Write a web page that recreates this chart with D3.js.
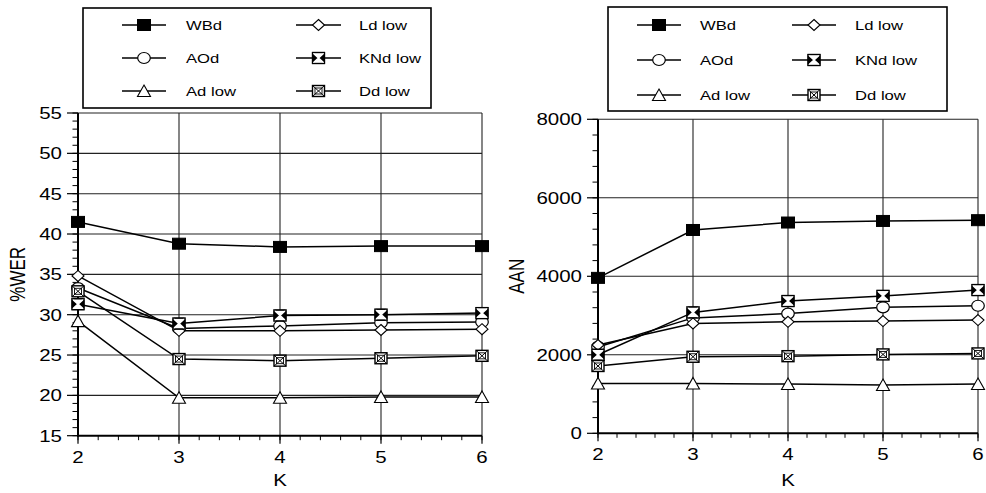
<!DOCTYPE html>
<html>
<head>
<meta charset="utf-8">
<script src="https://cdn.jsdelivr.net/npm/d3@7"></script>
<style>
  html, body { margin: 0; padding: 0; background: #fff; }
  svg text { font-family: "Liberation Sans", Arial, Helvetica, sans-serif; fill: #000; }
</style>
</head>
<body>
<svg id="chart" width="986" height="493"></svg>
<script>
// ---------------- data ----------------
const kValues = [2, 3, 4, 5, 6];
const seriesNames = ["WBd", "AOd", "Ad low", "Ld low", "KNd low", "Dd low"];
const seriesMarkers = ["fsquare", "circle", "triangle", "diamond", "knbox", "ddbox"];

const werWBd = [41.5, 38.8, 38.4, 38.5, 38.5];
const werAOd = [33.3, 28.3, 28.6, 29.0, 29.1];
const werAd  = [29.2, 19.7, 19.7, 19.8, 19.8];
const werLd  = [34.8, 28.0, 28.0, 28.1, 28.2];
const werKNd = [31.3, 28.9, 29.9, 30.0, 30.2];
const werDd  = [32.9, 24.5, 24.3, 24.6, 24.9];

const aanWBd = [3960, 5180, 5370, 5410, 5430];
const aanAOd = [2200, 2940, 3050, 3210, 3250];
const aanAd  = [1270, 1270, 1255, 1230, 1255];
const aanLd  = [2250, 2800, 2840, 2860, 2885];
const aanKNd = [2000, 3080, 3370, 3500, 3650];
const aanDd  = [1715, 1950, 1965, 2010, 2035];

const werTicks = [15, 20, 25, 30, 35, 40, 45, 50, 55];
const aanTicks = [0, 2000, 4000, 6000, 8000];
const kTicks = [2, 3, 4, 5, 6];

// ---------------- layout ----------------
const svg = d3.select("#chart");
const SX = 1.28; // horizontal stretch of the original figure's text

function txt(g, x, y, s, size, anchor, rot) {
  return g.append("text")
    .attr("transform", `translate(${x},${y}) scale(${SX},1)` + (rot ? ` rotate(${rot})` : ""))
    .attr("font-size", size)
    .attr("text-anchor", anchor || "start")
    .text(s);
}

function marker(g, type, cx, cy) {
  const w = 13, h = 11;
  const m = g.append("g").attr("transform", `translate(${cx},${cy})`);
  if (type === "fsquare") {
    m.append("rect").attr("x", -w/2).attr("y", -h/2).attr("width", w).attr("height", h)
      .attr("fill", "#000").attr("stroke", "#000").attr("stroke-width", 1);
  } else if (type === "circle") {
    m.append("ellipse").attr("rx", 6.3).attr("ry", 5.5)
      .attr("fill", "#fff").attr("stroke", "#000").attr("stroke-width", 1.2);
  } else if (type === "triangle") {
    m.append("path").attr("d", `M0,${-6} L${6.5},${5.5} L${-6.5},${5.5} Z`)
      .attr("fill", "#fff").attr("stroke", "#000").attr("stroke-width", 1.1);
  } else if (type === "diamond") {
    m.append("path").attr("d", `M0,-5.5 L6,0 L0,5.5 L-6,0 Z`)
      .attr("fill", "#fff").attr("stroke", "#000").attr("stroke-width", 1.1);
  } else if (type === "knbox") {
    const a = 6, b = 5.5;
    m.append("rect").attr("x", -a).attr("y", -b).attr("width", 2*a).attr("height", 2*b)
      .attr("fill", "#fff").attr("stroke", "#000").attr("stroke-width", 1.2);
    m.append("path").attr("d", `M${-a},${-b} L0,0 L${-a},${b} Z M${a},${-b} L0,0 L${a},${b} Z`)
      .attr("fill", "#000");
    m.append("path").attr("d", `M${-a},${-b} L${a},${b} M${a},${-b} L${-a},${b}`)
      .attr("stroke", "#fff").attr("stroke-width", 1.6);
    m.append("rect").attr("x", -a).attr("y", -b).attr("width", 2*a).attr("height", 2*b)
      .attr("fill", "none").attr("stroke", "#000").attr("stroke-width", 1.2);
  } else if (type === "ddbox") {
    const a = 6, b = 5.5;
    m.append("rect").attr("x", -a).attr("y", -b).attr("width", 2*a).attr("height", 2*b)
      .attr("fill", "#fff").attr("stroke", "#000").attr("stroke-width", 1.4);
    m.append("rect").attr("x", -a+2.5).attr("y", -b+2.5).attr("width", 2*a-5).attr("height", 2*b-5)
      .attr("fill", "none").attr("stroke", "#000").attr("stroke-width", 0.9);
    m.append("path").attr("d", `M${-a},${-b} L${a},${b} M${a},${-b} L${-a},${b}`)
      .attr("stroke", "#000").attr("stroke-width", 1);
  }
}

function panel(cfg) {
  const g = svg.append("g");
  const x = d3.scaleLinear().domain([2, 6]).range([cfg.left, cfg.right]);
  const y = d3.scaleLinear().domain(cfg.yDomain).range([cfg.bottom, cfg.top]);

  // grid (horizontal at major ticks, vertical at major K)
  g.selectAll(".hg").data(cfg.yTicks.filter(v => v !== cfg.yDomain[0])).enter().append("line")
    .attr("x1", cfg.left).attr("x2", cfg.right)
    .attr("y1", d => y(d)).attr("y2", d => y(d))
    .attr("stroke", "#222").attr("stroke-width", 1.1);
  g.selectAll(".vg").data(kTicks.slice(1)).enter().append("line")
    .attr("x1", d => x(d)).attr("x2", d => x(d))
    .attr("y1", cfg.top).attr("y2", cfg.bottom)
    .attr("stroke", "#222").attr("stroke-width", 1.1);

  // y axis
  const yMinor = d3.range(cfg.yDomain[0], cfg.yDomain[1] + 1e-9, cfg.yMinorStep);
  g.selectAll(".ym").data(yMinor).enter().append("line")
    .attr("x1", cfg.left - 5.5).attr("x2", cfg.left)
    .attr("y1", d => y(d)).attr("y2", d => y(d))
    .attr("stroke", "#000").attr("stroke-width", 1);
  g.selectAll(".yM").data(cfg.yTicks).enter().append("line")
    .attr("x1", cfg.left - 11).attr("x2", cfg.left)
    .attr("y1", d => y(d)).attr("y2", d => y(d))
    .attr("stroke", "#000").attr("stroke-width", 1.2);
  cfg.yTicks.forEach(v => txt(g, cfg.left - 16, y(v) + 6, String(v), 16, "end"));

  // x axis
  const xMinor = d3.range(0, 21).map(i => 2 + i * 0.2);
  g.selectAll(".xm").data(xMinor).enter().append("line")
    .attr("x1", d => x(d)).attr("x2", d => x(d))
    .attr("y1", cfg.bottom).attr("y2", cfg.bottom + 4.5)
    .attr("stroke", "#000").attr("stroke-width", 1);
  g.selectAll(".xM").data(kTicks).enter().append("line")
    .attr("x1", d => x(d)).attr("x2", d => x(d))
    .attr("y1", cfg.bottom).attr("y2", cfg.bottom + 8)
    .attr("stroke", "#000").attr("stroke-width", 1.2);
  kTicks.forEach(v => txt(g, x(v), cfg.bottom + 27, String(v), 16, "middle"));
  txt(g, x(4), 486, "K", 16, "middle");

  // axis lines
  g.append("line").attr("x1", cfg.left).attr("x2", cfg.left)
    .attr("y1", cfg.top).attr("y2", cfg.bottom + 1).attr("stroke", "#000").attr("stroke-width", 2);
  g.append("line").attr("x1", cfg.left - 1).attr("x2", cfg.right)
    .attr("y1", cfg.bottom).attr("y2", cfg.bottom).attr("stroke", "#000").attr("stroke-width", 2);

  // y title
  txt(g, cfg.titleX, (cfg.top + cfg.bottom) / 2, cfg.yTitle, 17, "middle", -90);

  // series lines
  const line = d3.line().x((d, i) => x(kValues[i])).y(d => y(d));
  cfg.series.forEach(s => {
    g.append("path").attr("d", line(s)).attr("fill", "none")
      .attr("stroke", "#000").attr("stroke-width", 1.5);
  });
  // markers
  cfg.series.forEach((s, si) => {
    s.forEach((v, i) => marker(g, seriesMarkers[si], x(kValues[i]), y(v)));
  });

  // legend
  const L = cfg.legend;
  g.append("rect").attr("x", L.x0).attr("y", L.y0).attr("width", L.x1 - L.x0).attr("height", L.y1 - L.y0)
    .attr("fill", "#fff").attr("stroke", "#000").attr("stroke-width", 1.6);
  seriesNames.forEach((name, i) => {
    const col = Math.floor(i / 3), row = i % 3;
    const c = L.cols[col];
    const ry = L.rows[row];
    g.append("line").attr("x1", c.l1).attr("x2", c.l2).attr("y1", ry).attr("y2", ry)
      .attr("stroke", "#000").attr("stroke-width", 1.5);
    marker(g, seriesMarkers[i], (c.l1 + c.l2) / 2, ry);
    txt(g, c.t, ry + 5, name, 13, "start");
  });
}

panel({
  left: 78, right: 482, top: 113, bottom: 435.7,
  yDomain: [15, 55], yTicks: werTicks, yMinorStep: 1,
  yTitle: "%WER", titleX: 25,
  series: [werWBd, werAOd, werAd, werLd, werKNd, werDd],
  legend: { x0: 83, x1: 431, y0: 8, y1: 108,
            rows: [25, 58, 91],
            cols: [{ l1: 122, l2: 166, t: 186 }, { l1: 296, l2: 341, t: 359 }] }
});

panel({
  left: 598, right: 978, top: 119.3, bottom: 433.3,
  yDomain: [0, 8000], yTicks: aanTicks, yMinorStep: 400,
  yTitle: "AAN", titleX: 524,
  series: [aanWBd, aanAOd, aanAd, aanLd, aanKNd, aanDd],
  legend: { x0: 608, x1: 947, y0: 7, y1: 111,
            rows: [25, 60, 95],
            cols: [{ l1: 637, l2: 681, t: 700 }, { l1: 792, l2: 836, t: 855 }] }
});
</script>
</body>
</html>
